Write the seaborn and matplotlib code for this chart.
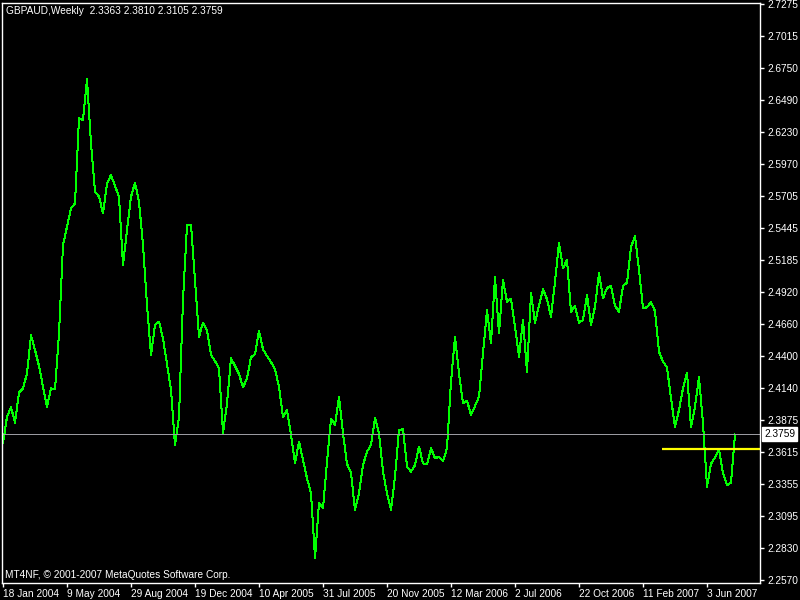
import pandas as pd
import numpy as np
import matplotlib
matplotlib.use('Agg')
import matplotlib.pyplot as plt
import matplotlib.transforms as mtransforms
import seaborn as sns

# GBPAUD weekly closes, 18 Jan 2004 .. 22 Jul 2007
close = [2.3687, 2.3904, 2.3981, 2.3855, 2.4100, 2.4136, 2.4258, 2.4569, 2.4449, 2.4318,
         2.4149, 2.3986, 2.4136, 2.4128, 2.4585, 2.5306, 2.5456, 2.5606, 2.5647, 2.6341,
         2.6327, 2.6660, 2.6137, 2.5742, 2.5701, 2.5565, 2.5810, 2.5878, 2.5788, 2.5701,
         2.5143, 2.5429, 2.5701, 2.5815, 2.5660, 2.5306, 2.4816, 2.4408, 2.4653, 2.4680,
         2.4544, 2.4334, 2.4122, 2.3673, 2.3904, 2.4857, 2.5470, 2.5470, 2.5021, 2.4557,
         2.4672, 2.4606, 2.4408, 2.4359, 2.4299, 2.3771, 2.4013, 2.4381, 2.4318, 2.4253,
         2.4144, 2.4218, 2.4389, 2.4416, 2.4606, 2.4454, 2.4400, 2.4351, 2.4291, 2.4149,
         2.3901, 2.3959, 2.3754, 2.3523, 2.3700, 2.3550, 2.3401, 2.3278, 2.2750, 2.3199,
         2.3156, 2.3536, 2.3888, 2.3836, 2.4067, 2.3768, 2.3518, 2.3446, 2.3142, 2.3278,
         2.3509, 2.3618, 2.3673, 2.3893, 2.3768, 2.3455, 2.3278, 2.3142, 2.3414, 2.3795,
         2.3801, 2.3496, 2.3455, 2.3509, 2.3659, 2.3523, 2.3515, 2.3646, 2.3564, 2.3577,
         2.3540, 2.3646, 2.4190, 2.4553, 2.4258, 2.4013, 2.4035, 2.3918, 2.3991, 2.4067,
         2.4422, 2.4775, 2.4504, 2.5043, 2.4585, 2.5021, 2.4843, 2.4868, 2.4639, 2.4394,
         2.4694, 2.4272, 2.4912, 2.4672, 2.4816, 2.4945, 2.4863, 2.4721, 2.5007, 2.5323,
         2.5116, 2.5184, 2.4762, 2.4808, 2.4672, 2.4694, 2.4898, 2.4653, 2.4802, 2.5075,
         2.4871, 2.4955, 2.4972, 2.4808, 2.4762, 2.4972, 2.4998, 2.5288, 2.5380, 2.5102,
         2.4789, 2.4798, 2.4841, 2.4767, 2.4435, 2.4353, 2.4307, 2.4054, 2.3822, 2.3959,
         2.4136, 2.4263, 2.3822, 2.3986, 2.4226, 2.3850, 2.3332, 2.3518, 2.3572, 2.3638,
         2.3442, 2.3346, 2.3363, 2.3759]

last_ohlc = ['2.3363', '2.3810', '2.3105', '2.3759']
y_ticks = [2.7275, 2.7015, 2.6750, 2.6490, 2.6230, 2.5970, 2.5705, 2.5445, 2.5185, 2.4920,
           2.4660, 2.4400, 2.4140, 2.3875, 2.3615, 2.3355, 2.3095, 2.2830, 2.2570]
level_price = 2.3640   # yellow horizontal line
level_start = 165      # bar where it starts

dates = pd.date_range('2004-01-18', periods=len(close), freq='W-SUN')
df = pd.DataFrame({'bar': np.arange(len(close)), 'close': close, 'date': dates})

sns.set_theme(style='dark', rc={'axes.facecolor': 'black', 'figure.facecolor': 'black',
                                'axes.edgecolor': 'white', 'text.color': 'white',
                                'xtick.color': 'white', 'ytick.color': 'white'})
plt.rcParams['font.family'] = ['Liberation Sans', 'DejaVu Sans']
fs = 7.3

fig = plt.figure(figsize=(8, 6), dpi=100)
ax = fig.add_axes([2/800, 17/600, 758/800, 580.5/600])

# 0.72 pt = 1 px at 100 dpi
sns.lineplot(data=df, x='bar', y='close', ax=ax, color='#00ff00', lw=0.72, antialiased=False)

px = 0.4705 / 576  # price per pixel
ax.set_xlim(-0.25, 189.25)
ax.set_ylim(2.2570 - 3*px, 2.7275 + 1.5*px)

# bid line and trend level
last = close[-1]
ax.axhline(last, color='#9a9aa0', lw=0.72)
ax.hlines(level_price, level_start - 0.25, 189.25, color='yellow', lw=1.6)

# axes look
for s in ax.spines.values():
    s.set_color('white')
    s.set_linewidth(1)
ax.yaxis.tick_right()
ax.set_yticks(y_ticks)
ax.set_yticklabels(['%.4f' % v for v in y_ticks])
ax.tick_params(axis='y', direction='out', length=3, width=1, pad=2, labelsize=fs,
               right=True, left=False)

xt = df['bar'][::16]
ax.set_xticks(xt)
ax.set_xticklabels(['%d %s' % (d.day, d.strftime('%b %Y')) for d in df['date'][::16]],
                   ha='left')
ax.tick_params(axis='x', direction='out', length=3, width=1, pad=1.5, labelsize=fs,
               bottom=True)
ax.set_xlabel('')
ax.set_ylabel('')
ax.grid(False)

# price label box for the last close
tr = mtransforms.blended_transform_factory(fig.transFigure, ax.transData)
ax.text(764/800, last, '%.4f' % last, transform=tr, ha='left', va='center',
        fontsize=fs, color='black',
        bbox=dict(boxstyle='square,pad=0.2', fc='white', ec='white'))

fig.text(6/800, 1 - 11/600, 'GBPAUD,Weekly  ' + ' '.join(last_ohlc),
         ha='left', va='center', fontsize=fs, color='white')
fig.text(5/800, 1 - 575/600, 'MT4NF, \u00a9 2001-2007 MetaQuotes Software Corp.',
         ha='left', va='center', fontsize=fs, color='white')

fig.savefig('out.png', dpi=100, facecolor='black')
